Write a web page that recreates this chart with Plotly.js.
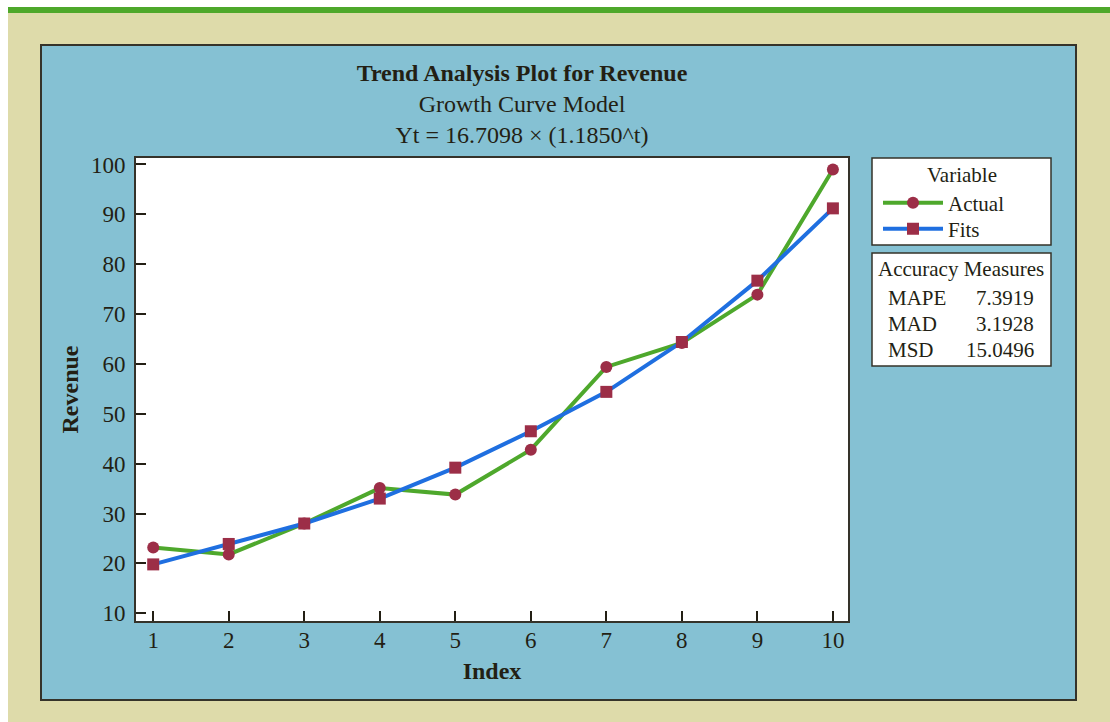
<!DOCTYPE html>
<html><head><meta charset="utf-8">
<script src="https://cdn.plot.ly/plotly-3.0.1.min.js"></script>
<style>html,body{margin:0;padding:0;background:#fff}</style>
</head><body><div id="chart" style="width:1110px;height:722px"></div>
<script>
const indexVals = [1,2,3,4,5,6,7,8,9,10];
const actual = [23.2,21.8,28.0,35.1,33.8,42.8,59.4,64.2,73.9,99.0];
const fits = [19.8,23.9,28.0,33.0,39.2,46.5,54.4,64.4,76.7,91.2];
const yTicks = [10,20,30,40,50,60,70,80,90,100];
const xTicks = [1,2,3,4,5,6,7,8,9,10];
const measureNames = ['MAPE','MAD','MSD'];
const measureValues = ['7.3919','3.1928','15.0496'];
const titleLines = ['Trend Analysis Plot for Revenue','Growth Curve Model','Yt = 16.7098 × (1.1850^t)'];

const W=1110,H=722,L=136,R=848,T=158,B=621;
const px = p => (p-L)/(R-L);
const py = p => (B-p)/(B-T);
const FONT = '"Liberation Serif","Times New Roman",serif';
const INK = '#231f14';
const DARK = '#35332a';

const traces = [
  {x:indexVals,y:actual,name:'Actual',type:'scatter',mode:'lines+markers',legend:'legend',
   line:{color:'#4ea82c',width:4},marker:{symbol:'circle',size:12,color:'#9c2e47'}},
  {x:indexVals,y:fits,name:'Fits',type:'scatter',mode:'lines+markers',legend:'legend2',
   line:{color:'#1f6fe0',width:4},marker:{symbol:'square',size:12,color:'#9c2e47'}}
];

function rect(x0,y0,x1,y1,fill,lc,lw){
  return {type:'rect',xref:'paper',yref:'paper',layer:'below',
    x0:px(x0),x1:px(x1),y0:py(y1),y1:py(y0),fillcolor:fill,
    line:{color:lc||'rgba(0,0,0,0)',width:lw||0}};
}
const shapes = [
  rect(8,7,1110,722,'#dedbaa'),
  rect(8,7,1110,13,'#4ea82a'),
  rect(41,45,1076,700,'#85c1d3',DARK,2),
  rect(L,T,R,B,'#ffffff'),
  rect(872,158,1051,245,'#ffffff',DARK,1.5),
  rect(872,253,1051,366,'#ffffff',DARK,1.5)
];

const annotations = [];
function ann(text,x,y,xanchor,size){
  annotations.push({text:text,xref:'paper',yref:'paper',x:px(x),y:py(y),
    xanchor:xanchor,yanchor:'middle',showarrow:false,font:{family:FONT,size:size||21,color:INK}});
}
ann('Variable',962,175,'center',21);
ann('Accuracy Measures',961,269,'center',21);
const rowY=[298,324,350];
measureNames.forEach((n,i)=>{ann(n,886,rowY[i],'left',21);ann(measureValues[i],1036,rowY[i],'right',21);});

const axisCommon = {showline:true,mirror:true,linecolor:DARK,linewidth:2,
  ticks:'inside',ticklen:10,tickwidth:2,tickcolor:INK,showgrid:false,zeroline:false,
  tickfont:{family:FONT,size:23,color:INK}};

const legendCommon = {x:px(878),xanchor:'left',yanchor:'middle',bgcolor:'rgba(0,0,0,0)',
  borderwidth:0,font:{family:FONT,size:21,color:INK},itemwidth:60};

const layout = {
  width:W,height:H,
  margin:{l:L,r:W-R,t:T,b:H-B,pad:0},
  paper_bgcolor:'#ffffff',plot_bgcolor:'rgba(0,0,0,0)',
  font:{family:FONT,color:INK},
  title:{text:'<b>'+titleLines[0]+'</b><br>'+titleLines[1]+'<br>'+titleLines[2],
    font:{family:FONT,size:24,color:INK},xref:'container',yref:'container',
    x:522/W,xanchor:'center',y:1-81/H,yanchor:'top'},
  xaxis:Object.assign({},axisCommon,{range:[0.772,10.2],tickvals:xTicks,ticklabelstandoff:-3,
    title:{text:'<b>Index</b>',font:{family:FONT,size:24,color:INK},standoff:11}}),
  yaxis:Object.assign({},axisCommon,{range:[8.45,101.3],tickvals:yTicks,ticklabelstandoff:4,
    title:{text:'<b>Revenue</b>',font:{family:FONT,size:24,color:INK},standoff:6}}),
  showlegend:true,
  legend:Object.assign({},legendCommon,{y:py(203)}),
  legend2:Object.assign({},legendCommon,{y:py(229)}),
  shapes:shapes,annotations:annotations
};
Plotly.newPlot('chart',traces,layout,{displayModeBar:false,staticPlot:true});
</script></body></html>
